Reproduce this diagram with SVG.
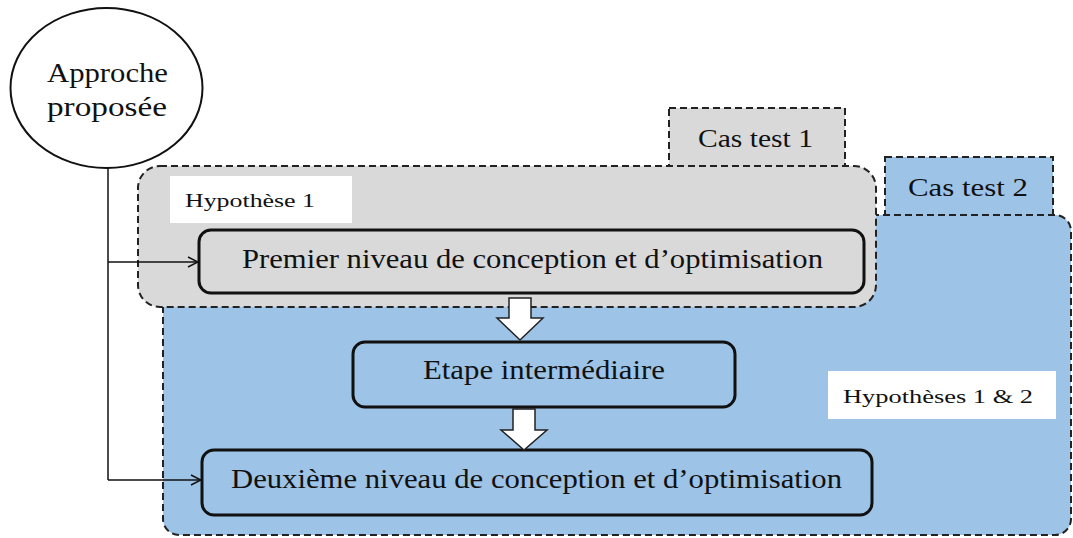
<svg xmlns="http://www.w3.org/2000/svg" width="1073" height="538" viewBox="0 0 1073 538">
<style>
text{font-family:"Liberation Serif","Times New Roman","DejaVu Serif",serif;fill:#111}
.dash{stroke:#222;stroke-width:2;stroke-dasharray:7,4}
.box{stroke:#111;stroke-width:3}
.big{font-size:27px}
.lbl{font-size:19px}
.conn{fill:none;stroke:#111;stroke-width:1.5}
.blk{fill:#fff;stroke:#222;stroke-width:1.5}
</style>
<defs>
<marker id="ah" markerWidth="12" markerHeight="12" refX="11" refY="6" orient="auto" markerUnits="userSpaceOnUse">
<path d="M1,1 L11,6 L1,11" fill="none" stroke="#111" stroke-width="1.5"/>
</marker>
</defs>
<rect width="1073" height="538" fill="#fff"/>
<g id="castest2">
<rect x="885" y="157" width="168" height="60" fill="#9dc3e6" class="dash"/>
<text x="908" y="196" class="big" style="font-size:25px" textLength="120" lengthAdjust="spacingAndGlyphs">Cas test 2</text>
</g>
<g id="hyp12">
<rect x="163" y="215" width="908" height="320" rx="16" fill="#9dc3e6" class="dash"/>
</g>
<g id="castest1">
<rect x="669" y="108" width="176" height="59" fill="#d9d9d9" class="dash"/>
<text x="698" y="147" class="big" style="font-size:25px" textLength="115" lengthAdjust="spacingAndGlyphs">Cas test 1</text>
</g>
<g id="hyp1">
<rect x="138" y="166" width="738" height="141" rx="22" fill="#d9d9d9" class="dash"/>
</g>
<g id="label1">
<rect x="170" y="176" width="182" height="47" fill="#fff"/>
<text x="185" y="207" class="lbl" textLength="130" lengthAdjust="spacingAndGlyphs">Hypothèse 1</text>
</g>
<g id="label2">
<rect x="828" y="371" width="228" height="48" fill="#fff"/>
<text x="843" y="403" class="lbl" textLength="190" lengthAdjust="spacingAndGlyphs">Hypothèses 1 &amp; 2</text>
</g>
<g id="approche">
<ellipse cx="106.5" cy="88" rx="96" ry="80" fill="#fff" stroke="#111" stroke-width="2"/>
<text x="47" y="82" class="big" textLength="121" lengthAdjust="spacingAndGlyphs">Approche</text>
<text x="47" y="116" class="big" textLength="120" lengthAdjust="spacingAndGlyphs">proposée</text>
</g>
<g id="premier">
<rect x="199" y="230" width="665" height="63" rx="12" fill="#d9d9d9" class="box"/>
<text x="242" y="268" class="big" textLength="581" lengthAdjust="spacingAndGlyphs">Premier niveau de conception et d’optimisation</text>
</g>
<g id="etape">
<rect x="353" y="342" width="382" height="65" rx="12" fill="#9dc3e6" class="box"/>
<text x="423" y="379" class="big" textLength="242" lengthAdjust="spacingAndGlyphs">Etape intermédiaire</text>
</g>
<g id="deuxieme">
<rect x="202" y="450" width="670" height="65" rx="12" fill="#9dc3e6" class="box"/>
<text x="231" y="488" class="big" textLength="611" lengthAdjust="spacingAndGlyphs">Deuxième niveau de conception et d’optimisation</text>
</g>
<g id="connectors">
<path class="conn" d="M108,168 V480"/>
<path class="conn" d="M108,262 H198" marker-end="url(#ah)"/>
<path class="conn" d="M108,480 H201" marker-end="url(#ah)"/>
<path class="blk" d="M509,298 H531 V318 H543 L520,340 L497,318 H509 Z"/>
<path class="blk" d="M513,409 H535 V430 H547 L524,450 L501,430 H513 Z"/>
</g>
</svg>
